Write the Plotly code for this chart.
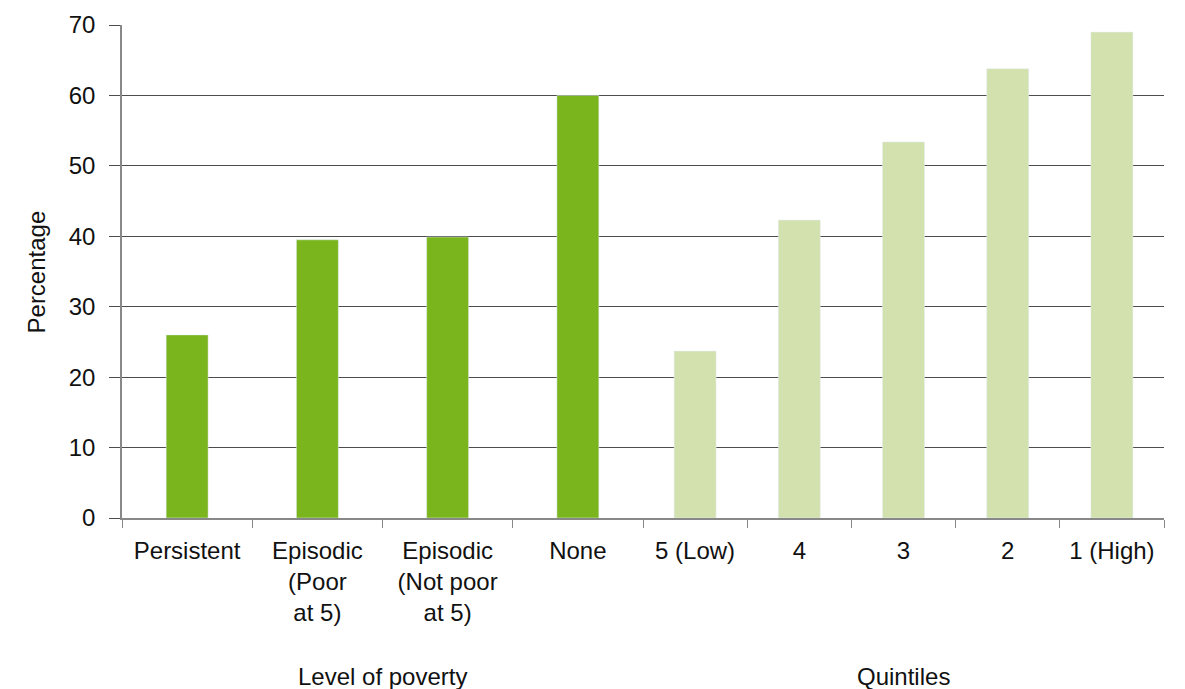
import plotly.graph_objects as go

poverty_cats = ["Persistent", "Episodic<br>(Poor<br>at 5)", "Episodic<br>(Not poor<br>at 5)", "None"]
poverty_vals = [26.0, 39.5, 39.9, 60.0]
quintile_cats = ["5 (Low)", "4", "3", "2", "1 (High)"]
quintile_vals = [23.7, 42.3, 53.4, 63.8, 69.0]
y_ticks = [0, 10, 20, 30, 40, 50, 60, 70]

DARK = "#7ab51d"
LIGHT = "#d2e1ae"
FONT = "Liberation Sans, Arial, Helvetica, sans-serif"
TXT = "#111111"
FS = 24

fig = go.Figure()
fig.add_trace(go.Bar(x=poverty_cats, y=poverty_vals, marker_color=DARK,
                     width=0.322, xaxis="x", yaxis="y", showlegend=False))
fig.add_trace(go.Bar(x=quintile_cats, y=quintile_vals, marker_color=LIGHT,
                     width=0.403, xaxis="x2", yaxis="y", showlegend=False))

xcommon = dict(
    type="category", tickson="boundaries", ticks="outside", ticklen=8,
    tickcolor="#888888", showline=True, linecolor="#888888", linewidth=1.5,
    showgrid=False, tickfont=dict(size=FS, color=TXT), automargin=False,
    ticklabelstandoff=10, fixedrange=True,
)
fig.update_layout(
    width=1177, height=681,
    margin=dict(l=114, r=21, t=17, b=171, autoexpand=False),
    paper_bgcolor="white", plot_bgcolor="white",
    font=dict(family=FONT, color=TXT),
    xaxis=dict(domain=[0, 0.5], anchor="y", **xcommon),
    xaxis2=dict(domain=[0.5, 1], anchor="y", **xcommon),
    yaxis=dict(range=[0, 70], tickvals=y_ticks, showgrid=True,
               gridcolor="#4d4d4d", gridwidth=1, ticks="outside", ticklen=11,
               tickcolor="#4d4d4d", showline=True, linecolor="#888888",
               linewidth=1.5, zeroline=False, automargin=False,
               ticklabelstandoff=9, tickfont=dict(size=FS, color=TXT)),
    annotations=[
        dict(text="Level of poverty", xref="paper", yref="paper", x=0.25, y=-0.322,
             xanchor="center", yanchor="middle", showarrow=False,
             font=dict(size=FS, color=TXT)),
        dict(text="Quintiles", xref="paper", yref="paper", x=0.75, y=-0.322,
             xanchor="center", yanchor="middle", showarrow=False,
             font=dict(size=FS, color=TXT)),
        dict(text="Percentage", xref="paper", yref="paper", x=-0.0816, y=0.5,
             xanchor="center", yanchor="middle", showarrow=False, textangle=-90,
             font=dict(size=FS, color=TXT)),
    ],
)
fig.write_html("out.html")
